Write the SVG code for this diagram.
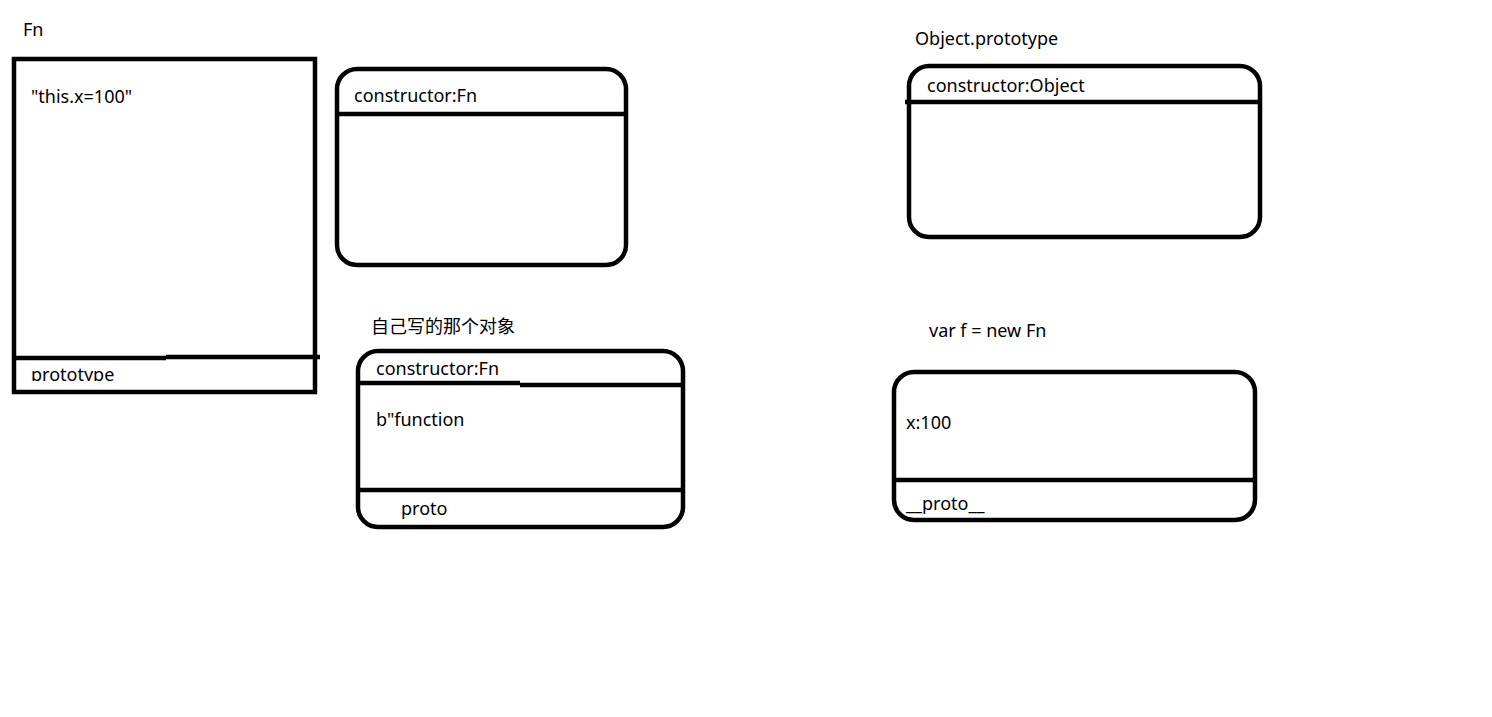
<svg xmlns="http://www.w3.org/2000/svg" width="1492" height="717" viewBox="0 0 1492 717">
<style>
.b{fill:none;stroke:#000;stroke-width:4.5}
.t{font-family:"Noto Sans","Noto Sans CJK SC",sans-serif;font-size:18px;fill:#000}
</style>
<defs>
<clipPath id="protoClip"><rect x="16" y="360" width="297" height="21"/></clipPath>
</defs>
<rect width="1492" height="717" fill="#fff"/>
<g id="fn">
<text class="t" x="23" y="36">Fn</text>
<text class="t" x="31" y="103">"this.x=100"</text>
<text class="t" x="31" y="381" clip-path="url(#protoClip)">prototype</text>
<rect class="b" x="14" y="59" width="301" height="333"/>
<path class="b" d="M14 358H166M166 357H320"/>
</g>
<g id="fn-prototype">
<rect class="b" x="337" y="69" width="289" height="196" rx="20"/>
<path class="b" d="M337 114H626"/>
<text class="t" x="354" y="102">constructor:Fn</text>
</g>
<g id="own-object">
<text class="t" x="371" y="333">自己写的那个对象</text>
<rect class="b" x="358" y="351" width="325" height="176" rx="20"/>
<path class="b" d="M358 383H520M520 385H683M358 490H683"/>
<text class="t" x="376" y="375">constructor:Fn</text>
<text class="t" x="376" y="426">b"function</text>
<text class="t" x="401" y="515">proto</text>
</g>
<g id="object-prototype">
<text class="t" x="915" y="45">Object.prototype</text>
<rect class="b" x="909" y="66" width="351" height="171" rx="20"/>
<path class="b" d="M905 102H1260"/>
<text class="t" x="927" y="92">constructor:Object</text>
</g>
<g id="instance-f">
<text class="t" x="929" y="337">var f = new Fn</text>
<rect class="b" x="894" y="372" width="361" height="148" rx="20"/>
<path class="b" d="M894 480H1255"/>
<text class="t" x="906" y="429">x:100</text>
<text class="t" x="906" y="510">__proto__</text>
</g>
<g id="connectors"></g>
</svg>
